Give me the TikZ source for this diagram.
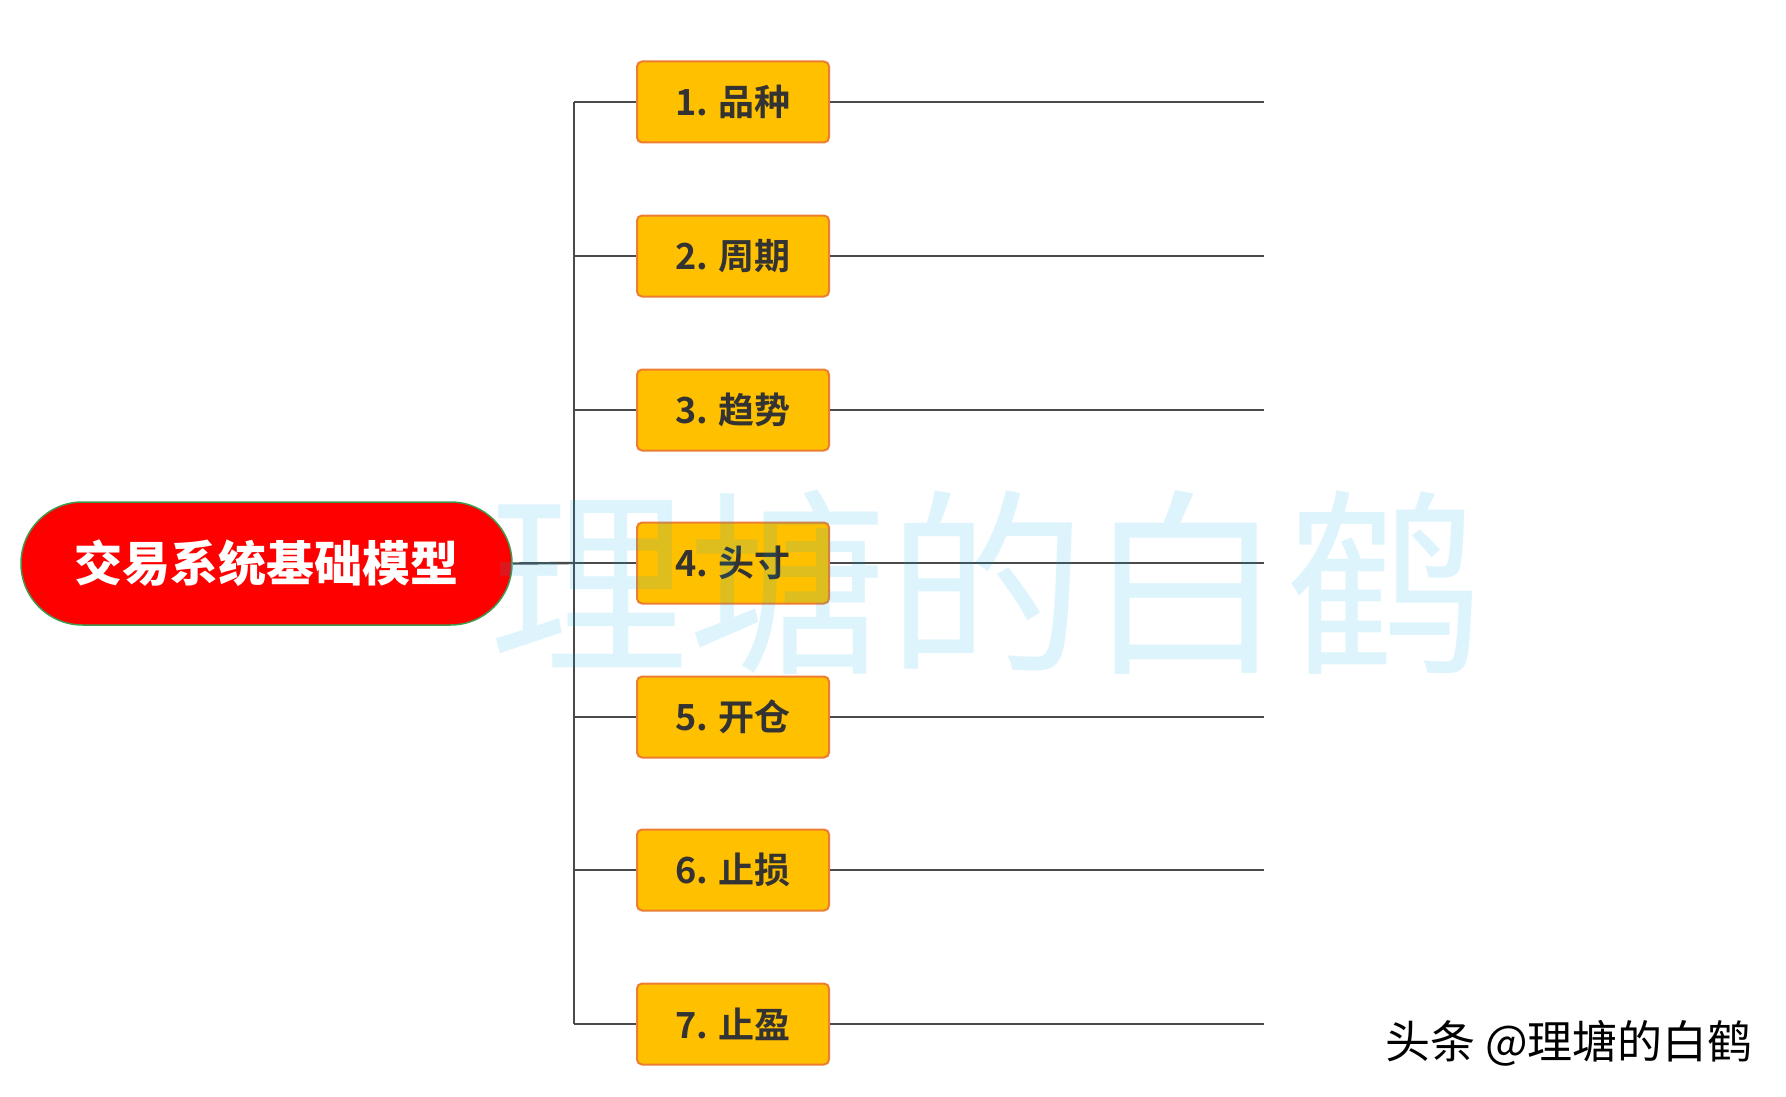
\documentclass[tikz,border=0pt]{standalone}
\usepackage{fontspec}
\setmainfont{Noto Sans CJK SC}
\newfontfamily\cjk{Noto Sans CJK SC}
\newfontfamily\cjkbold{Noto Sans CJK SC Bold}
\newfontfamily\cjkblack{Noto Sans CJK SC Black}
\usetikzlibrary{shapes.misc}
\definecolor{rootred}{HTML}{FF0000}
\definecolor{rootborder}{HTML}{3D9A4F}
\definecolor{boxfill}{HTML}{FFC000}
\definecolor{boxborder}{HTML}{ED7D31}
\definecolor{linegray}{HTML}{4A4A4A}
\definecolor{txtgray}{HTML}{333333}
\definecolor{wmark}{HTML}{00AEEF}
\tikzset{
  rootbox/.style={rounded rectangle, fill=rootred, draw=rootborder, line width=1.5pt,
    minimum width=491pt, minimum height=123pt, inner sep=0pt,
    text=white, font=\cjkblack\fontsize{48}{56}\selectfont},
  itembox/.style={rectangle, rounded corners=5pt, fill=boxfill, draw=boxborder, line width=2pt,
    minimum width=192pt, minimum height=81pt, inner sep=0pt,
    text=txtgray, font=\cjkbold\fontsize{36}{42}\selectfont},
  conn/.style={draw=linegray, line width=2.4pt},
  wm/.style={text=wmark, text opacity=0.13, font=\cjk\fontsize{199}{215}\selectfont, inner sep=0pt},
  credit/.style={text=black, font=\cjk\fontsize{45}{50}\selectfont, inner sep=0pt}
}
\begin{document}
\begin{tikzpicture}[x=1pt,y=-1pt]
\useasboundingbox (0,0) rectangle (1786,1097);
\fill[white] (0,0) rectangle (1786,1097);
% trunk coordinates
\coordinate (t1) at (574,102);
\coordinate (t2) at (574,256);
\coordinate (t3) at (574,410);
\coordinate (t4) at (574,563);
\coordinate (t5) at (574,717);
\coordinate (t6) at (574,870);
\coordinate (t7) at (574,1024);
\coordinate (e1) at (1264,102);
\coordinate (e2) at (1264,256);
\coordinate (e3) at (1264,410);
\coordinate (e4) at (1264,563);
\coordinate (e5) at (1264,717);
\coordinate (e6) at (1264,870);
\coordinate (e7) at (1264,1024);
% nodes
\node[rootbox] (root) at (266.5,563.5) {交易系统基础模型};
\node[itembox] (b1) at (733,102) {1. 品种};
\node[itembox] (b2) at (733,256) {2. 周期};
\node[itembox] (b3) at (733,410) {3. 趋势};
\node[itembox] (b4) at (733,563) {4. 头寸};
\node[itembox] (b5) at (733,717) {5. 开仓};
\node[itembox] (b6) at (733,870) {6. 止损};
\node[itembox] (b7) at (733,1024) {7. 止盈};
% connectors
\draw[conn] (t1) -- (t7);
\draw[conn] (root.east) -- (t4);
\foreach \i in {1,...,7} {
  \draw[conn] (t\i) -- (b\i.west);
  \draw[conn] (b\i.east) -- (e\i);
}
% watermark
\node[wm] (wm) at (987,582) {理塘的白鹤};
% credit
\node[credit] (cr) at (1569,1043) {头条 @理塘的白鹤};
\end{tikzpicture}
\end{document}
